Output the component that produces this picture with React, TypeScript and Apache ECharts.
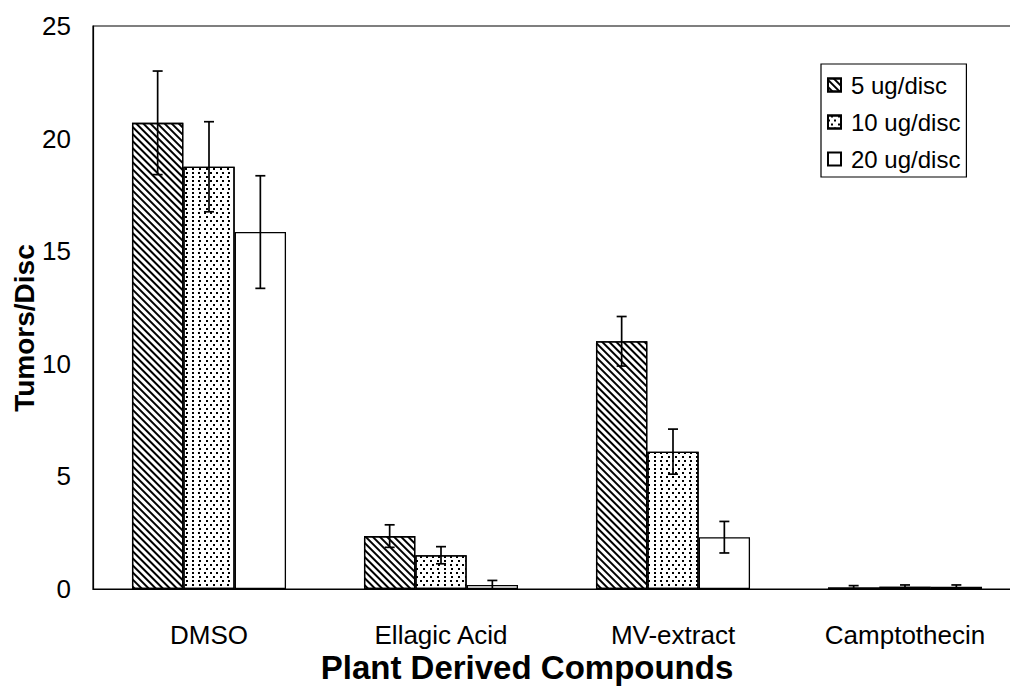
import React, { useEffect, useRef } from "react";
import * as echarts from "echarts";

const categories = ["DMSO", "Ellagic Acid", "MV-extract", "Camptothecin"];
const seriesNames = ["5 ug/disc", "10 ug/disc", "20 ug/disc"];
const values5 = [20.7, 2.35, 11.0, 0.07];
const values10 = [18.75, 1.5, 6.1, 0.1];
const values20 = [15.85, 0.18, 2.3, 0.1];
const errors5 = [2.3, 0.5, 1.1, 0.08];
const errors10 = [2.0, 0.38, 1.0, 0.08];
const errors20 = [2.5, 0.2, 0.7, 0.08];
const yTicks = [0, 5, 10, 15, 20, 25];

const FONT = "'Liberation Sans', Arial, Helvetica, sans-serif";
const CAT_GAP = 0.336;

export default function App() {
  const ref = useRef<HTMLDivElement>(null);

  useEffect(() => {
    if (!ref.current) return;
    const chart = echarts.init(ref.current, undefined, { renderer: "svg" });
    const values = [values5, values10, values20];
    const errors = [errors5, errors10, errors20];

    const decals: any[] = [
      {
        symbol: "rect",
        symbolSize: 1,
        color: "#000",
        backgroundColor: null,
        dashArrayX: [1, 0],
        dashArrayY: [1.1, 3.0],
        rotation: Math.PI / 4,
      },
      {
        symbol: "rect",
        symbolSize: 1,
        color: "#000",
        backgroundColor: null,
        dashArrayX: [[1.3, 3.7], [0, 2.5, 1.3, 1.2]],
        dashArrayY: [1.3, 1.2],
        rotation: 0,
      },
      null,
    ];

    const barSeries = seriesNames.map((name, i) => {
      const itemStyle: any = {
        color: "#fff",
        borderColor: "#000",
        borderWidth: 1.3,
      };
      if (decals[i]) itemStyle.decal = decals[i];
      return {
        type: "bar",
        name,
        data: values[i],
        barGap: "0%",
        barCategoryGap: CAT_GAP * 100 + "%",
        itemStyle,
        emphasis: { disabled: true },
      };
    });

    const errData: number[][] = [];
    for (let s = 0; s < 3; s++) {
      for (let c = 0; c < categories.length; c++) {
        errData.push([c, values[s][c], errors[s][c], s]);
      }
    }

    const option: any = {
      animation: false,
      grid: {
        left: 93,
        top: 26,
        width: 928,
        height: 563,
        outerBoundsMode: "none",
        containLabel: false,
        show: true,
        borderColor: "#000",
        borderWidth: 1.2,
        backgroundColor: "transparent",
      },
      legend: {
        data: seriesNames.map((n) => ({ name: n, icon: "rect" })),
        orient: "vertical",
        left: 821,
        top: 64,
        padding: [9, 6, 6, 6],
        itemGap: 13,
        itemWidth: 13,
        itemHeight: 13,
        borderColor: "#000",
        borderWidth: 1.2,
        backgroundColor: "#fff",
        textStyle: { fontFamily: FONT, fontSize: 24, color: "#000", padding: [0, 0, 0, 5] },
        selectedMode: false,
      },
      xAxis: {
        type: "category",
        data: categories,
        axisLine: { lineStyle: { color: "#000", width: 1.2 } },
        axisTick: { show: false },
        axisLabel: { fontFamily: FONT, fontSize: 26, color: "#000", margin: 33 },
      },
      yAxis: {
        type: "value",
        min: 0,
        max: 25,
        interval: 5,
        splitLine: { show: false },
        axisLine: { show: true, lineStyle: { color: "#000", width: 1.2 } },
        axisTick: { show: false },
        axisLabel: {
          fontFamily: FONT,
          fontSize: 26,
          color: "#000",
          margin: 22,
          formatter: (v: number) => (yTicks.includes(v) ? String(v) : ""),
        },
      },
      graphic: [
        {
          type: "text",
          x: 527,
          y: 667,
          style: {
            text: "Plant Derived Compounds",
            font: "bold 33px " + FONT,
            fill: "#000",
            textAlign: "center",
            textVerticalAlign: "middle",
          },
        },
        {
          type: "text",
          x: 24,
          y: 328,
          rotation: Math.PI / 2,
          style: {
            text: "Tumors/Disc",
            font: "bold 28px " + FONT,
            fill: "#000",
            textAlign: "center",
            textVerticalAlign: "middle",
          },
        },
      ],
      series: [
        ...barSeries,
        {
          type: "custom",
          name: "err",
          data: errData,
          z: 10,
          encode: { x: 0, y: 1 },
          renderItem: (params: any, api: any) => {
            const c = api.value(0);
            const v = api.value(1);
            const e = api.value(2);
            const s = api.value(3);
            const band = api.size([1, 0])[0];
            const bw = (band * (1 - CAT_GAP)) / 3;
            const center = api.coord([c, v]);
            const x = center[0] + (s - 1) * bw;
            const top = api.coord([c, v + e])[1];
            const bot = api.coord([c, Math.max(0, v - e)])[1];
            const cap = 5;
            const st = { stroke: "#000", lineWidth: 1.7 };
            return {
              type: "group",
              children: [
                { type: "line", shape: { x1: x, y1: top, x2: x, y2: bot }, style: st },
                { type: "line", shape: { x1: x - cap, y1: top, x2: x + cap, y2: top }, style: st },
                { type: "line", shape: { x1: x - cap, y1: bot, x2: x + cap, y2: bot }, style: st },
              ],
            };
          },
        },
      ],
    };

    chart.setOption(option);
    return () => chart.dispose();
  }, []);

  return (
    <div
      ref={ref}
      style={{ position: "fixed", left: 0, top: 0, width: 1010, height: 688, background: "#fff" }}
    />
  );
}
